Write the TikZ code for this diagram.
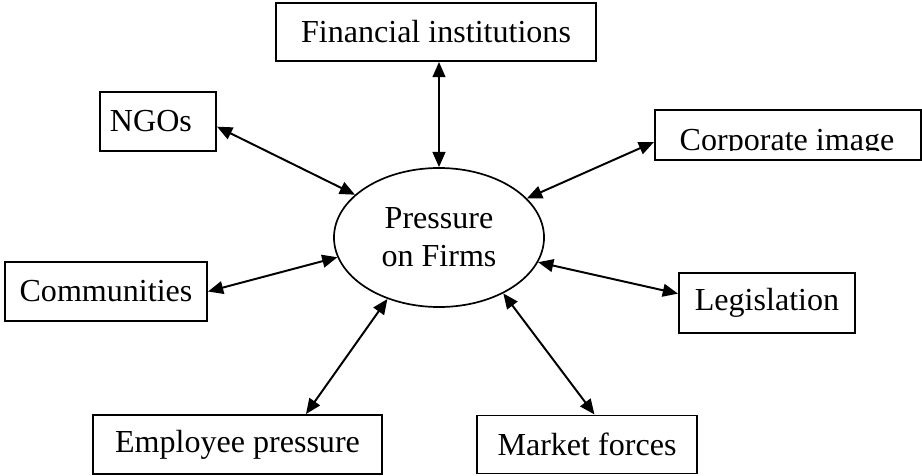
\documentclass[tikz,border=0pt]{standalone}
\usepackage{fontspec}
\setmainfont{Liberation Serif}
\usetikzlibrary{arrows.meta, shapes.geometric}

\begin{document}
\begin{tikzpicture}[x=0.025cm, y=-0.025cm, <->, >={Triangle[length=3.8mm, width=3.2mm]}, line width=1.4pt]

\tikzstyle{every node}=[font=\fontsize{22.8}{27}\selectfont, inner sep=0pt]
\tikzstyle{box}=[rectangle, draw, line width=1.4pt]

\useasboundingbox (0,0) rectangle (922,475);

\node[ellipse, draw, line width=1.2pt, minimum width=5.25cm, minimum height=3.475cm, align=center] (firm) at (439,237.5) {Pressure\\on Firms};

\node[box, minimum width=8cm, minimum height=1.45cm] (fin) at (436,32) {Financial institutions};
\node[box, text width=2.4cm, inner xsep=0.25cm, align=left, minimum height=1.475cm] (ngo) at (158,121.5) {NGOs};
\node[box, minimum width=6.65cm, minimum height=1.25cm] (corp) at (788,135) {};
\begin{scope}
  \clip (corp.north west) rectangle ([yshift=0.25cm]corp.south east);
  \node[anchor=base] (corptext) at (787,150) {Corporate image};
\end{scope}
\node[box, minimum width=5.05cm, minimum height=1.475cm] (com) at (106,291.5) {Communities};
\node[box, minimum width=4.4cm, minimum height=1.5cm] (leg) at (767,303) {Legislation};
\node[box, minimum width=7.225cm, minimum height=1.475cm] (emp) at (237.5,444.5) {Employee pressure};
\node[box, minimum width=5.5cm, minimum height=1.45cm] (mkt) at (587,444.5) {Market forces};

\draw (fin.south -| firm.north) -- (firm.north);
\draw (ngo.-5) -- (firm.153);
\draw (corp.183) -- (firm.24);
\draw (com.east) -- (firm.-169);
\draw (leg.174) -- (firm.-14);
\draw (emp.24) -- (firm.-130);
\draw (mkt.76) -- (firm.-41);

\end{tikzpicture}
\end{document}
